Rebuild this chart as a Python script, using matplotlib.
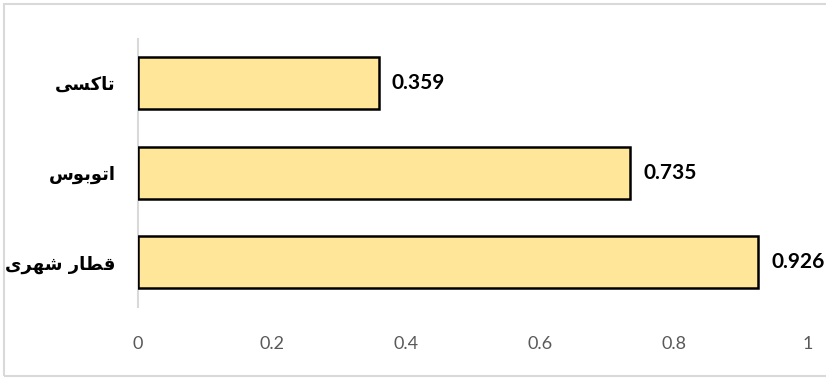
import matplotlib
matplotlib.use("Agg")
import matplotlib.pyplot as plt
from matplotlib.patches import Rectangle

# ---- data ----
categories = ["قطار شهری", "اتوبوس", "تاکسی"]   # bottom -> top
values = [0.926, 0.735, 0.359]
xticks = [0, 0.2, 0.4, 0.6, 0.8, 1]
xticklabels = ["0", "0.2", "0.4", "0.6", "0.8", "1"]

# ---- minimal Arabic/Persian shaping (presentation forms, visual order) ----
FORMS = {  # iso, fin, init, med
    "ا": ("\uFE8D", "\uFE8E", None, None),
    "ب": ("\uFE8F", "\uFE90", "\uFE91", "\uFE92"),
    "ت": ("\uFE95", "\uFE96", "\uFE97", "\uFE98"),
    "ر": ("\uFEAD", "\uFEAE", None, None),
    "س": ("\uFEB1", "\uFEB2", "\uFEB3", "\uFEB4"),
    "ش": ("\uFEB5", "\uFEB6", "\uFEB7", "\uFEB8"),
    "ط": ("\uFEC1", "\uFEC2", "\uFEC3", "\uFEC4"),
    "ق": ("\uFED5", "\uFED6", "\uFED7", "\uFED8"),
    "ک": ("\uFB8E", "\uFB8F", "\uFB90", "\uFB91"),
    "ه": ("\uFEE9", "\uFEEA", "\uFEEB", "\uFEEC"),
    "و": ("\uFEED", "\uFEEE", None, None),
    "ی": ("\uFBFC", "\uFBFD", "\uFBFE", "\uFBFF"),
}


def shape(text):
    out = []
    n = len(text)
    for i, ch in enumerate(text):
        if ch not in FORMS:
            out.append(ch)
            continue
        iso, fin, ini, med = FORMS[ch]
        prev = text[i - 1] if i > 0 else None
        nxt = text[i + 1] if i < n - 1 else None
        pj = prev in FORMS and FORMS[prev][2] is not None
        nj = nxt in FORMS and ini is not None
        if pj and nj:
            out.append(med)
        elif pj:
            out.append(fin)
        elif nj:
            out.append(ini)
        else:
            out.append(iso)
    return "".join(out)[::-1]


W, H = 826, 379
fig = plt.figure(figsize=(W / 100, H / 100), dpi=100)
fig.patch.set_facecolor("white")

# outer light-grey border
fig.patches.append(Rectangle((4 / W, 3 / H), 1.2, (H - 7) / H, transform=fig.transFigure,
                             fill=False, edgecolor="#d9d9d9", linewidth=1.5))

ax = fig.add_axes([138 / W, (H - 307) / H, (808 - 138) / W, (307 - 38.5) / H])
pos = list(range(len(categories)))
ax.barh(pos, values, height=0.58, color="#ffe699", edgecolor="black", linewidth=1.8, zorder=3)

ax.set_xlim(0, 1)
ax.set_ylim(-0.5, len(categories) - 0.5)
ax.set_xticks(xticks)
ax.set_xticklabels(xticklabels, fontsize=13, color="#595959", family=["Lato", "DejaVu Sans"])
ax.set_yticks(pos)
ax.set_yticklabels([shape(c) for c in categories], fontsize=13, fontweight="bold",
                   family=["DejaVu Sans"])
ax.tick_params(axis="both", length=0)
ax.tick_params(axis="x", pad=21)
ax.tick_params(axis="y", pad=16)

for s in ["top", "right", "bottom"]:
    ax.spines[s].set_visible(False)
ax.spines["left"].set_color("#d9d9d9")
ax.spines["left"].set_linewidth(1.5)

for p, v in zip(pos, values):
    ax.text(v + 0.02, p, f"{v:.3f}", va="center", ha="left", fontsize=15, fontweight="bold",
            family=["Lato", "DejaVu Sans"], color="black")

fig.savefig("out.png", dpi=100)
